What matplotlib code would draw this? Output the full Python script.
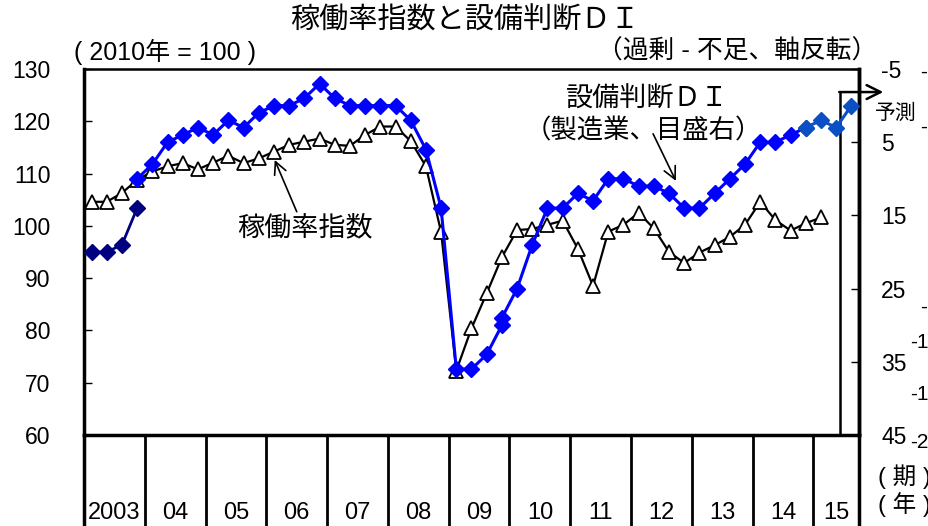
import matplotlib
matplotlib.use("Agg")
import matplotlib.pyplot as plt
import matplotlib.transforms as mtransforms

plt.rcParams['font.family'] = ['Liberation Sans', 'Noto Sans CJK JP']
plt.rcParams['axes.unicode_minus'] = False

# quarterly data, 2003Q1 .. 2015Q3 (index 0..50)
utilization = [104.6, 104.6, 106.3, 108.8, 110.4, 111.4, 112.0, 110.8,
               112.1, 113.4, 112.0, 112.9, 114.2, 115.5, 116.1, 116.7,
               115.5, 115.3, 117.4, 119.0, 119.0, 116.2, 111.4, 98.8,
               72.3, 80.4, 87.1, 94.0, 99.2, 99.4, 100.2, 101.0,
               95.6, 88.5, 98.9, 100.2, 102.5, 99.5, 95.0, 92.9,
               94.9, 96.3, 97.9, 100.2, 104.6, 101.1, 99.1, 100.5,
               101.6]
di_old = [20, 20, 19, 14]                      # 2003Q1-Q4
di_a_start = 3
di_a = [10, 8, 5, 4, 3, 4, 2, 3, 1, 0, 0, -1, -3, -1, 0, 0, 0, 0, 2, 6,
        14, 36, 36, 34, 30]                    # 2003Q4-2009Q4
di_b_start = 27
di_b = [29, 25, 19, 14, 14, 12, 13, 10, 10, 11, 11, 12, 14, 14, 12, 10,
        8, 5, 5, 4, 3]                         # 2009Q4-2014Q4
di_c_start = 47
di_c = [3, 2, 3, 0]                            # 2014Q4-2015Q3 (forecast)
year_labels = ['2003', '04', '05', '06', '07', '08', '09', '10', '11',
               '12', '13', '14', '15']
left_ticks = [60, 70, 80, 90, 100, 110, 120, 130]
right_ticks = [-5, 5, 15, 25, 35, 45]

W, H = 929, 526
fig = plt.figure(figsize=(W / 100, H / 100), dpi=100)
ax = fig.add_axes([84 / W, 1 - 435 / H, 775 / W, 366 / H])

n_q = 51
ax.set_xlim(0, n_q)
ax.set_ylim(60, 130)
ax.set_yticks(left_ticks)
ax.set_xticks([])
ax.tick_params(axis='y', direction='in', length=6, width=1, pad=24, labelsize=16.5)
for s in ['left', 'bottom', 'right']:
    ax.spines[s].set_linewidth(2.5)
ax.spines['top'].set_linewidth(1.8)

xu = [i + 0.5 for i in range(len(utilization))]
ax.plot(xu, utilization, color='black', lw=1.6, marker='^', ms=10.5,
        mfc='white', mec='black', mew=1.3, zorder=3)

ax2 = ax.twinx()
ax2.set_ylim(45, -5)
ax2.set_yticks(right_ticks)
ax2.tick_params(axis='y', direction='in', length=6, width=1, pad=16, labelsize=16.5)
for s in ax2.spines.values():
    s.set_visible(False)
ax2.spines['right'].set_visible(True)
ax2.spines['right'].set_linewidth(2.5)

def seg(start, vals):
    return [start + i + 0.5 for i in range(len(vals))], vals

x, y = seg(0, di_old)
ax2.plot(x, y, color='#000080', lw=2, marker='D', ms=8, zorder=4)
x, y = seg(di_a_start, di_a)
ax2.plot(x, y, color='#0000ff', lw=2.2, marker='D', ms=8, zorder=4)
x, y = seg(di_b_start, di_b)
ax2.plot(x, y, color='#0000ff', lw=2.2, marker='D', ms=8, zorder=4)
x, y = seg(di_c_start, di_c)
ax2.plot(x, y, color='#0a50c4', lw=2.2, marker='D', ms=8, zorder=4)

# year separators below the axis
trans = mtransforms.blended_transform_factory(ax.transData, ax.transAxes)
bounds = list(range(0, 49, 4)) + [n_q]
for b in bounds:
    ax.plot([b, b], [0, -0.27], color='black', lw=2.5 if b in (0, n_q) else 2,
            transform=trans, clip_on=False)
centers = [(bounds[i] + bounds[i + 1]) / 2 for i in range(len(bounds) - 1)]
for c, lab in zip(centers, year_labels):
    ax.text(c, -0.212, lab, transform=trans, ha='center', va='center', fontsize=17)

# forecast box
ax.plot([49.75, 49.75], [0, 0.937], color='black', lw=1.8, transform=trans, clip_on=False)
ax.annotate('', xy=(52.6, 0.937), xytext=(49.7, 0.937), xycoords=trans,
            textcoords=trans, annotation_clip=False,
            arrowprops=dict(arrowstyle='->', color='black', lw=1.8, mutation_scale=25,
                            shrinkA=0, shrinkB=0))
fig.text(896 / W, 1 - 113 / H, '予測', ha='center', va='center', fontsize=15)

# annotations
ax.text(14.54, 99.6, '稼働率指数', ha='center', va='center', fontsize=19.5)
ax.annotate('', xy=(12.55, 112.6), xytext=(14.0, 102.7),
            arrowprops=dict(arrowstyle='->', color='black', lw=1.2, mutation_scale=22,
                            shrinkA=0, shrinkB=0))
ax.text(37.1, 124.1, '設備判断ＤＩ', ha='center', va='center', fontsize=19.5)
ax.text(36.8, 118.2, '（製造業、目盛右）', ha='center', va='center', fontsize=19)
ax.annotate('', xy=(38.95, 108.6), xytext=(37.45, 117.6),
            arrowprops=dict(arrowstyle='->', color='black', lw=1.2, mutation_scale=22,
                            shrinkA=0, shrinkB=0))

# titles and unit notes
fig.text(465 / W, 1 - 21 / H, '稼働率指数と設備判断ＤＩ', ha='center', va='center', fontsize=21)
fig.text(165 / W, 1 - 52 / H, '( 2010年 = 100 )', ha='center', va='center', fontsize=18)
fig.text(737 / W, 1 - 51 / H, '（過剰 - 不足、軸反転）', ha='center', va='center', fontsize=18.5)
fig.text(904 / W, 1 - 477 / H, '( 期 )', ha='center', va='center', fontsize=17)
fig.text(904 / W, 1 - 505 / H, '( 年 )', ha='center', va='center', fontsize=17)

# partly visible labels of a neighbouring axis at the right edge
for py, s in [(72, '-'), (127, '-'), (307, '-'), (343, '-1'), (395, '-1'), (442, '-2')]:
    fig.text(910 / W if len(s) > 1 else 920 / W, 1 - py / H, s, ha='left', va='center', fontsize=15)

fig.savefig('out.png', dpi=100)
